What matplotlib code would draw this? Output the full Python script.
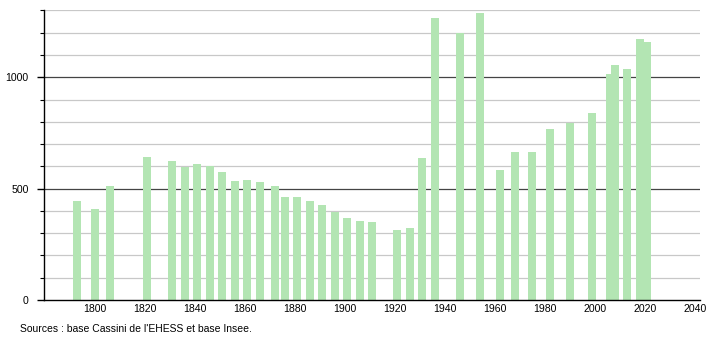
import matplotlib
matplotlib.use("Agg")
import matplotlib.pyplot as plt

years = [1793, 1800, 1806, 1821, 1831, 1836, 1841, 1846, 1851, 1856, 1861, 1866,
         1872, 1876, 1881, 1886, 1891, 1896, 1901, 1906, 1911, 1921, 1926, 1931,
         1936, 1946, 1954, 1962, 1968, 1975, 1982, 1990, 1999, 2006, 2008, 2013,
         2018, 2021]
population = [446, 410, 513, 644, 624, 596, 611, 603, 576, 534, 539, 530,
              512, 462, 462, 445, 427, 397, 368, 355, 350, 314, 323, 638,
              1265, 1197, 1287, 584, 666, 666, 768, 796, 838, 1015, 1055, 1037,
              1170, 1158]
xticks = [1800, 1820, 1840, 1860, 1880, 1900, 1920, 1940, 1960, 1980, 2000, 2020, 2040]
yticks = [0, 500, 1000]
source = "Sources : base Cassini de l'EHESS et base Insee."

plt.rcParams['font.family'] = ['Liberation Sans', 'DejaVu Sans']

fig = plt.figure(figsize=(7.1, 3.4), dpi=100)
ax = fig.add_axes([44/710, 1 - 300/340, 656/710, 290/340])

ax.set_xlim(1779.7, 2042)
ax.set_ylim(0, 1302)

for v in range(100, 1301, 100):
    if v % 500 == 0:
        ax.axhline(v, color='#444444', lw=0.9, zorder=1)
    else:
        ax.axhline(v, color='#c8c8c8', lw=0.9, zorder=1)

ax.bar(years, population, width=3.2, color='#b3e5b3', zorder=2, align='center')

for s in ['top', 'right']:
    ax.spines[s].set_visible(False)
ax.spines['left'].set_color('black')
ax.spines['bottom'].set_color('black')
ax.spines['left'].set_linewidth(1.0)
ax.spines['bottom'].set_linewidth(1.0)

ax.set_yticks(yticks)
ax.set_yticks(range(0, 1301, 100), minor=True)
ax.tick_params(axis='y', which='major', length=5, width=1, labelsize=7.6, pad=6)
ax.tick_params(axis='y', which='minor', length=3, width=0.8)
ax.set_xticks(xticks)
ax.set_xticklabels([str(x) for x in xticks])
ax.tick_params(axis='x', length=0, labelsize=7.6, pad=3)

fig.text(20/710, 1 - 329/340, source, fontsize=7.5, va='center', ha='left')

fig.savefig("out.png", dpi=100)
